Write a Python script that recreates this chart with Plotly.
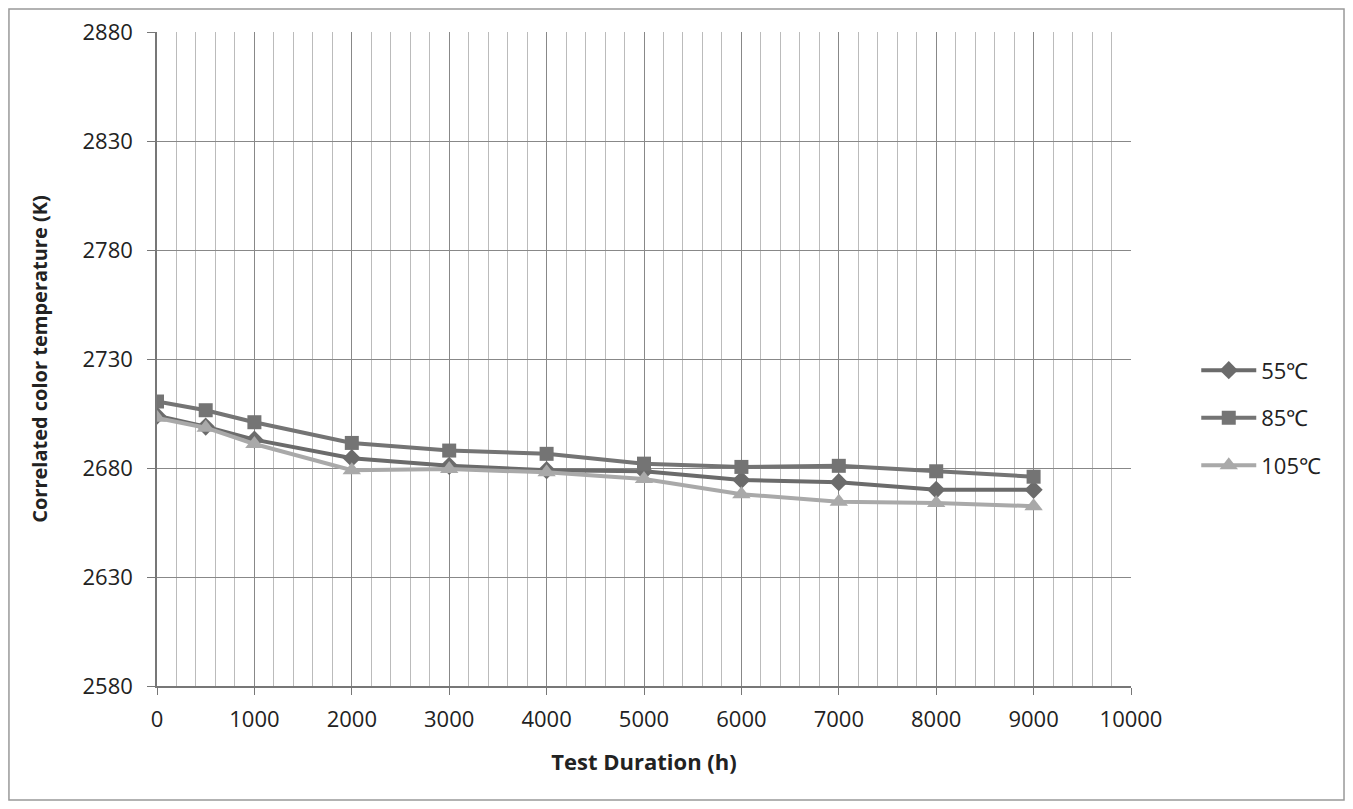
import plotly.graph_objects as go

hours = [0, 500, 1000, 2000, 3000, 4000, 5000, 6000, 7000, 8000, 9000]
cct_55 = [2704, 2699, 2693, 2684.5, 2681, 2679, 2678.5, 2674.5, 2673.5, 2670, 2670]
cct_85 = [2710.5, 2706.5, 2701, 2691.5, 2688, 2686.5, 2682, 2680.5, 2681, 2678.5, 2676]
cct_105 = [2703, 2698.5, 2691, 2679, 2679.5, 2678, 2675, 2668, 2664.5, 2664, 2662.5]

series = [
    ("55℃", cct_55, "#6b6b6b", "diamond", 14),
    ("85℃", cct_85, "#747474", "square", 14),
    ("105℃", cct_105, "#a9a9a9", "triangle-up", 16),
]

fig = go.Figure()
for name, vals, color, sym, size in series:
    fig.add_trace(go.Scatter(
        x=hours, y=vals, name=name, mode="lines+markers", legendgroup=name,
        line=dict(color=color, width=4),
        marker=dict(symbol=sym, size=size, color=color),
    ))

font = "Open Sans, Liberation Sans, sans-serif"
fig.update_layout(
    width=1337, height=793,
    margin=dict(l=149, r=214, t=24, b=115, autoexpand=False),
    paper_bgcolor="white", plot_bgcolor="white",
    font=dict(family=font, color="#222222", size=22),
    showlegend=True,
    legend=dict(x=1.067, y=0.41, xanchor="left", yanchor="middle",
                font=dict(size=22, color="#222222"), tracegroupgap=16,
                itemwidth=55, bgcolor="rgba(0,0,0,0)"),
    xaxis=dict(range=[0, 10000], dtick=1000, tick0=0, tickformat="d",
               showgrid=True, gridcolor="#888888", gridwidth=1.2,
               minor=dict(dtick=200, showgrid=True, gridcolor="#bbbbbb", gridwidth=1),
               ticks="outside", ticklen=7, tickcolor="#777777",
               showline=True, linecolor="#777777", linewidth=1.5,
               zeroline=False, tickfont=dict(size=22), automargin=False,
               ticklabelstandoff=6,
               title=dict(text="<b>Test Duration (h)</b>", font=dict(size=22), standoff=22)),
    yaxis=dict(range=[2580, 2880], dtick=50, tick0=2580, tickformat="d",
               showgrid=True, gridcolor="#888888", gridwidth=1.2,
               ticks="outside", ticklen=8, tickcolor="#777777",
               showline=True, linecolor="#777777", linewidth=1.5,
               zeroline=False, tickfont=dict(size=22), automargin=False,
               ticklabelstandoff=10,
               title=dict(text="<b>Correlated color temperature (K)</b>", font=dict(size=20), standoff=30)),
    shapes=[dict(type="rect", xref="paper", yref="paper",
                 x0=-0.152, x1=1.2187, y0=-0.1743, y1=1.035,
                 line=dict(color="#999999", width=1.5), fillcolor="rgba(0,0,0,0)", layer="below")],
)

fig.write_html("out.html")
